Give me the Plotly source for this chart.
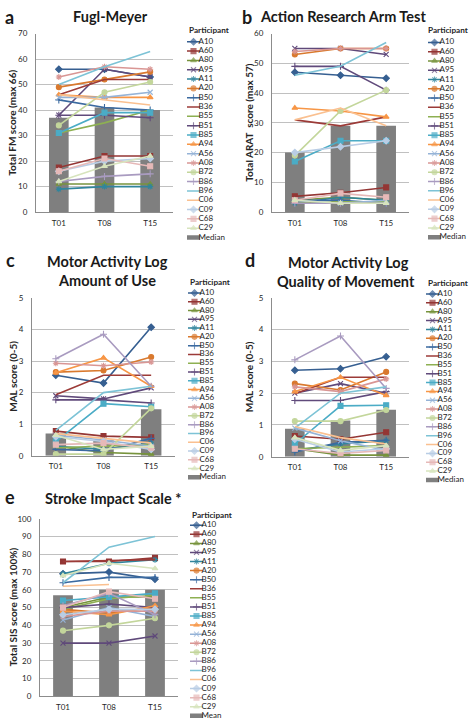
import plotly.graph_objects as go

W, H = 472, 727

times = ["T01", "T08", "T15"]
participants = ["A10", "A60", "A80", "A95", "A11", "A20", "B50", "B36", "B55", "B51", "B85",
                "A94", "A56", "A08", "B72", "B86", "B96", "C06", "C09", "C68", "C29"]

colors = ["#365F91", "#943634", "#77933C", "#5F497A", "#31859C", "#D9792E", "#3B6AA0",
          "#9C3B38", "#8EB052", "#604A7B", "#4BACC6", "#F79646", "#95B3D7", "#D99694",
          "#C3D69B", "#A99BC0", "#7DC3D6", "#FAC090", "#B9CDE5", "#E6B9B8", "#D7E4BD"]
symbols = ["diamond", "square", "triangle-up", "x-thin-open", "asterisk-open", "circle",
           "cross-thin-open", None, None, "cross-thin-open", "square", "triangle-up",
           "x-thin-open", "asterisk-open", "circle", "cross-thin-open", None, None,
           "diamond", "square", "triangle-up"]

# Fugl-Meyer (per participant: T01, T08, T15)
fm_scores = [[56, 56, 53], [17.5, 22, 22], [11, 11, 11], [38, 56, 53], [9, 10, 10],
             [49, 52, 55], [44, 41, 40], [46, 52, 52], [31, 35, 40], [38, 38, 37],
             [31, 39, 39], [46, 45, 45], [45, 45, 47], [53, 57, 56], [34, 47, 51],
             [12, 14, 15], [50, 57, 63], [46, 44, 42], [16, 20, 21], [16, 21, 18],
             [12, 18, 22]]
fm_median = [37, 41, 40]

# Action Research Arm Test
arat_scores = [[47, 46, 45], [5.3, 6.5, 8.3], [4, 5, 4], [55, 55, 53], [3, 5, 4],
               [53, 55, 55], [4, 4, 3], [31, 29, 32], [3, 3.5, 3.5], [49, 49, 41],
               [17, 24, 24], [35, 34, 32], [4, 3, 4], [54, 55, 55], [19, 34, 41],
               [3, 3, 3], [46, 49, 57], [31, 35, 29], [20, 22, 24], [4, 6.3, 5],
               [4, 3, 3]]
arat_median = [20, 29, 29]

# Motor Activity Log - Amount of Use
aou_scores = [[2.55, 2.30, 4.07], [0.78, 0.62, 0.58], [0.30, 0.10, 0.05], [1.90, 1.80, 2.15],
              [0.30, 0.20, 0.40], [2.65, 2.70, 3.13], [0.20, 0.15, 0.55], [1.93, 2.55, 2.55],
              [0.25, 0.30, 0.35], [1.77, 1.77, 1.67], [0.45, 1.65, 1.55], [2.63, 3.10, 2.20],
              [0.65, 0.50, 0.30], [2.93, 2.85, 2.97], [0.05, 0.05, 1.50], [3.07, 3.85, 2.20],
              [0.80, 2.00, 2.20], [0.70, 0.55, 0.40], [0.60, 0.45, 0.20], [0.35, 0.40, 0.25],
              [0.65, 0.20, 0.30]]
aou_median = [0.70, 0.49, 1.47]

# Motor Activity Log - Quality of Movement
qom_scores = [[2.72, 2.77, 3.15], [0.65, 0.55, 0.77], [0.25, 0.05, 0.05], [2.00, 2.30, 2.00],
              [0.20, 0.40, 0.50], [2.30, 2.10, 2.67], [0.15, 0.45, 0.52], [1.98, 2.50, 2.50],
              [0.25, 0.30, 0.35], [1.77, 1.77, 2.05], [0.40, 1.60, 1.62], [2.05, 2.50, 1.93],
              [0.90, 0.50, 0.20], [2.20, 2.05, 2.45], [1.12, 1.12, 1.47], [3.05, 3.80, 2.15],
              [0.90, 2.00, 2.20], [0.95, 0.60, 0.40], [0.55, 0.15, 0.25], [0.25, 0.10, 0.20],
              [0.60, 0.20, 0.35]]
qom_median = [0.88, 1.14, 1.48]

# Stroke Impact Scale
sis_scores = [[69, 70, 66], [76, 76, 78], [50, 56, 56], [30, 30, 34], [69, 75, 77],
              [49, 47, 50], [64, 67, 67], [76, 76.5, 77], [49, 55, 57], [50, 52, 50],
              [54, 56, 58], [48, 46, 51], [43, 50, 45], [45, 48, 48], [37, 40, 44],
              [51, 58, 46], [64, 84, 90], [62, 63, None], [46, 49, 49], [50, 59, 55],
              [68, 75, 72]]
sis_mean = [57, 60, 60]

panels = [
    dict(scores=fm_scores, bar=fm_median, ymax=70, dtick=10, box=(36, 173, 29, 210),
         ytitle="Total FM score (max 66)", ytx=12, bar_name="Median",
         leg=(187, 37.3, 9.45), legtitle=(187, 25, "left")),
    dict(scores=arat_scores, bar=arat_median, ymax=60, dtick=10, box=(272, 409, 29, 210),
         ytitle="Total ARAT  score (max 57)", ytx=249, bar_name="Median",
         leg=(428, 38, 9.4), legtitle=(470, 25, "right")),
    dict(scores=aou_scores, bar=aou_median, ymax=5, dtick=1, box=(32, 175, 297, 457),
         ytitle="MAL score (0-5)", ytx=13, bar_name="Median",
         leg=(188, 292, 8.9), legtitle=(188, 281, "left")),
    dict(scores=qom_scores, bar=qom_median, ymax=5, dtick=1, box=(272, 409, 297, 458),
         ytitle="MAL score (0-5)", ytx=249, bar_name="Median",
         leg=(426, 293, 8.98), legtitle=(470, 282, "right")),
    dict(scores=sis_scores, bar=sis_mean, ymax=100, dtick=10, box=(40, 178, 521, 701),
         ytitle="Total SIS score (max 100%)", ytx=13, bar_name="Mean",
         leg=(190, 527.5, 9.2), legtitle=(190, 517.5, "left")),
]

FONT = "Lato"
TXT = "#262626"
GRID = "#C0C0C0"
AXL = "#8C8C8C"
BARC = "#7F7F7F"

fig = go.Figure()
annotations = []
layout = {}


def px(x):
    return x / W


def py(y):
    return 1 - y / H


def mk(i, size=5):
    s = symbols[i]
    if s is None:
        return dict(size=0, opacity=0)
    return dict(symbol=s, size=size, color=colors[i], line=dict(color=colors[i], width=1.1))


n = len(panels)
for k, p in enumerate(panels):
    ax = k + 1
    xa = "x" if ax == 1 else f"x{ax}"
    ya = "y" if ax == 1 else f"y{ax}"
    x0, x1, y0, y1 = p["box"]
    layout[f"xaxis{ax}"] = dict(domain=[px(x0), px(x1)], anchor=ya, type="category",
                                range=[-0.5, 2.5], showgrid=False, showline=True,
                                linecolor=AXL, linewidth=1, ticks="", zeroline=False,
                                tickfont=dict(size=8, color=TXT, family=FONT),
                                ticklabelstandoff=3, fixedrange=True)
    layout[f"yaxis{ax}"] = dict(domain=[py(y1), py(y0)], anchor=xa, range=[0, p["ymax"]],
                                dtick=p["dtick"], showgrid=True, gridcolor=GRID, gridwidth=1,
                                showline=True, linecolor=AXL, linewidth=1, ticks="",
                                zeroline=False, tickfont=dict(size=8, color=TXT, family=FONT),
                                ticklabelstandoff=6, fixedrange=True)
    fig.add_trace(go.Bar(x=times, y=p["bar"], width=0.43, marker=dict(color=BARC, line=dict(width=0)),
                         xaxis=xa, yaxis=ya, showlegend=False))
    for i, name in enumerate(participants):
        m = mk(i)
        mode = "lines" if symbols[i] is None else "lines+markers"
        fig.add_trace(go.Scatter(x=times, y=p["scores"][i], mode=mode, name=name,
                                 line=dict(color=colors[i], width=1.6), marker=m,
                                 connectgaps=False, xaxis=xa, yaxis=ya, showlegend=False))
    annotations.append(dict(x=px(p["ytx"]), y=py((y0 + y1) / 2), xref="paper", yref="paper",
                            text=p["ytitle"], textangle=-90, showarrow=False,
                            font=dict(size=10, color=TXT, family=FONT, weight="bold"),
                            xanchor="center", yanchor="middle"))

    # manual legend on its own hidden axes
    lax = n + k + 1
    lxa, lya = f"x{lax}", f"y{lax}"
    lx0, ly_first, sp = p["leg"]
    labels = participants + [p["bar_name"]]
    nitems = len(labels)
    top_px = ly_first - sp / 2
    bot_px = min(ly_first + sp * (nitems - 1) + sp / 2, H - 0.5)
    bot_val = -0.5 + (bot_px - top_px) / sp
    layout[f"xaxis{lax}"] = dict(domain=[px(lx0), px(lx0 + 14)], range=[0, 14], visible=False,
                                 anchor=lya, fixedrange=True)
    layout[f"yaxis{lax}"] = dict(domain=[py(bot_px), py(top_px)],
                                 range=[bot_val, -0.5], visible=False, anchor=lxa,
                                 fixedrange=True)
    for i, name in enumerate(participants):
        if symbols[i] is None:
            fig.add_trace(go.Scatter(x=[0, 13], y=[i, i], mode="lines",
                                     line=dict(color=colors[i], width=1.5), cliponaxis=False,
                                     xaxis=lxa, yaxis=lya, showlegend=False, hoverinfo="skip"))
        else:
            m = mk(i, 5)
            m["size"] = [0, 5, 0]
            fig.add_trace(go.Scatter(x=[0, 6.5, 13], y=[i, i, i], mode="lines+markers",
                                     line=dict(color=colors[i], width=1.5), marker=m,
                                     cliponaxis=False,
                                     xaxis=lxa, yaxis=lya, showlegend=False, hoverinfo="skip"))
    fig.add_trace(go.Scatter(x=[0, 13], y=[nitems - 1] * 2, mode="lines",
                             line=dict(color=BARC, width=4.5), cliponaxis=False,
                             xaxis=lxa, yaxis=lya, showlegend=False, hoverinfo="skip"))
    fig.add_trace(go.Scatter(x=[11.5] * nitems, y=list(range(nitems)), mode="text",
                             text=labels, textposition="middle right",
                             textfont=dict(size=8, color=TXT, family=FONT), cliponaxis=False,
                             xaxis=lxa, yaxis=lya, showlegend=False, hoverinfo="skip"))
    tx, ty, tanchor = p["legtitle"]
    annotations.append(dict(x=px(tx), y=py(ty), xref="paper", yref="paper", text="Participant",
                            showarrow=False, xanchor=tanchor, yanchor="middle",
                            font=dict(size=8.2, color=TXT, family=FONT, weight="bold")))


def label(x, y, text, size, anchor="center"):
    annotations.append(dict(x=px(x), y=py(y), xref="paper", yref="paper", text=text,
                            showarrow=False, xanchor=anchor, yanchor="middle",
                            font=dict(size=size, color="#1a1a1a", family=FONT, weight="bold")))


label(3, 12, "a", 18, "left")
label(110, 12, "Fugl-Meyer", 14.5)
label(240, 12, "b", 18, "left")
label(258, 12, "Action Research Arm Test", 14.5, "left")
label(4, 259, "c", 18, "left")
label(107, 260, "Motor Activity Log", 14.5)
label(107, 279, "Amount of Use", 14.5)
label(243, 259, "d", 18, "left")
label(348, 261, "Motor Activity Log", 14.5)
label(346, 280, "Quality of Movement", 14.5)
label(3, 499, "e", 18, "left")
label(43, 500, "Stroke Impact Scale *", 14.5, "left")

fig.update_layout(width=W, height=H, margin=dict(l=0, r=0, t=0, b=0),
                  paper_bgcolor="white", plot_bgcolor="white", showlegend=False,
                  barmode="overlay", annotations=annotations,
                  font=dict(family=FONT, color=TXT), **layout)

fig.write_html("out.html", config=dict(displayModeBar=False),
               post_script="document.body.style.margin='0px';document.body.style.overflow='hidden';")
